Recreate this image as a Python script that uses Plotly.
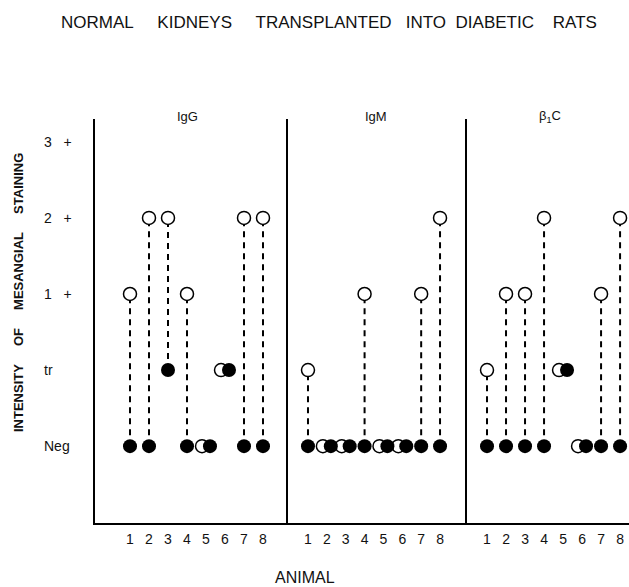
import plotly.graph_objects as go
from plotly.subplots import make_subplots

# ---- data ----
animals = [1, 2, 3, 4, 5, 6, 7, 8]
level_labels = ["Neg", "tr", "1 +", "2 +", "3 +"]   # 0..4
panels = ["IgG", "IgM", "β<sub>1</sub>C"]

igg_open   = [2, 3, 3, 2, 0, 1, 3, 3]
igg_filled = [0, 0, 1, 0, 0, 1, 0, 0]
igm_open   = [1, 0, 0, 2, 0, 0, 2, 3]
igm_filled = [0, 0, 0, 0, 0, 0, 0, 0]
b1c_open   = [1, 2, 2, 3, 1, 0, 2, 3]
b1c_filled = [0, 0, 0, 0, 1, 0, 0, 0]

series = [(igg_open, igg_filled), (igm_open, igm_filled), (b1c_open, b1c_filled)]

W, H = 629, 587
ML, MR = 95, 0
MT = 119
MB = H - 523
PW, PH = W - ML - MR, H - MT - MB

def px(sx):  # screen x -> paper
    return (sx - ML) / PW

def py(sy):  # screen y -> paper
    return (H - MB - sy) / PH

FONT = "Liberation Sans, Arial, sans-serif"

fig = make_subplots(rows=1, cols=3, shared_yaxes=True, horizontal_spacing=0,
                    column_widths=[193, 179, 162])

OFF = 0.21
for c, (op, fi) in enumerate(series, start=1):
    xo, xf = [], []
    lx, ly = [], []
    for a, o, f in zip(animals, op, fi):
        if o == f:
            xo.append(a - OFF); xf.append(a + OFF)
        else:
            xo.append(a); xf.append(a)
            lx += [a, a, None]; ly += [f, o, None]
    fig.add_trace(go.Scatter(x=lx, y=ly, mode="lines",
                             line=dict(color="black", width=2, dash="6px,5px"),
                             hoverinfo="skip", showlegend=False), row=1, col=c)
    fig.add_trace(go.Scatter(x=xo, y=op, mode="markers",
                             marker=dict(symbol="circle", size=13, color="white",
                                         line=dict(color="black", width=1.5)),
                             showlegend=False), row=1, col=c)
    fig.add_trace(go.Scatter(x=xf, y=fi, mode="markers",
                             marker=dict(symbol="circle", size=14, color="black",
                                         line=dict(color="black", width=0)),
                             showlegend=False), row=1, col=c)

xranges = [[-0.842, 9.316], [-0.06, 9.43], [-0.053, 8.47]]
for c in range(1, 4):
    fig.update_xaxes(row=1, col=c, range=xranges[c - 1], tickvals=animals,
                     ticktext=[str(a) for a in animals],
                     showline=True, linecolor="black", linewidth=2,
                     showgrid=False, zeroline=False,
                     ticks="outside", ticklen=2, tickcolor="rgba(0,0,0,0)",
                     tickfont=dict(family=FONT, size=14, color="#111"))
    fig.update_yaxes(row=1, col=c, range=[-1.01, 4.30], showline=True,
                     linecolor="black", linewidth=2, showgrid=False,
                     zeroline=False, showticklabels=False, ticks="")

annots = []
# y level labels
for v, t in enumerate(level_labels):
    annots.append(dict(text=t.replace(" ", "\u00a0\u00a0\u00a0"), xref="paper", yref="y",
                       x=px(42), y=v, xanchor="left", yanchor="middle",
                       showarrow=False, font=dict(family=FONT, size=14, color="#111")))
# panel labels
for sx, t in zip([187, 376, 550], panels):
    annots.append(dict(text=t, xref="paper", yref="paper", x=px(sx), y=py(116),
                       xanchor="center", yanchor="middle", showarrow=False,
                       font=dict(family=FONT, size=13, color="#111")))
# title
nb = "\u00a0"
title = ("NORMAL" + nb * 5 + "KIDNEYS" + nb * 5 + "TRANSPLANTED" + nb * 3 +
         "INTO" + nb * 2 + "DIABETIC" + nb * 4 + "RATS")
annots.append(dict(text=title, xref="paper", yref="paper", x=px(59), y=py(22),
                   xanchor="left", yanchor="middle", showarrow=False,
                   font=dict(family=FONT, size=17, color="#111")))
# x title
annots.append(dict(text="ANIMAL", xref="paper", yref="paper", x=px(305), y=py(577),
                   xanchor="center", yanchor="middle", showarrow=False,
                   font=dict(family=FONT, size=16, color="#111")))
# y title
sp = nb * 5
annots.append(dict(text="<b>" + sp.join(["INTENSITY", "OF", "MESANGIAL", "STAINING"]) + "</b>",
                   xref="paper", yref="paper", x=px(18), y=py(293),
                   xanchor="center", yanchor="middle", textangle=-90, showarrow=False,
                   font=dict(family=FONT, size=13, color="#111")))

fig.update_layout(width=W, height=H, autosize=False,
                  margin=dict(l=ML, r=MR, t=MT, b=MB, pad=0),
                  paper_bgcolor="white", plot_bgcolor="white",
                  annotations=annots, showlegend=False, hovermode=False)

fig.write_html("out.html", config={"displayModeBar": False, "staticPlot": True},
               post_script="document.body.style.margin='0';"
                           "document.documentElement.style.overflow='hidden';"
                           "document.body.style.overflow='hidden';")
